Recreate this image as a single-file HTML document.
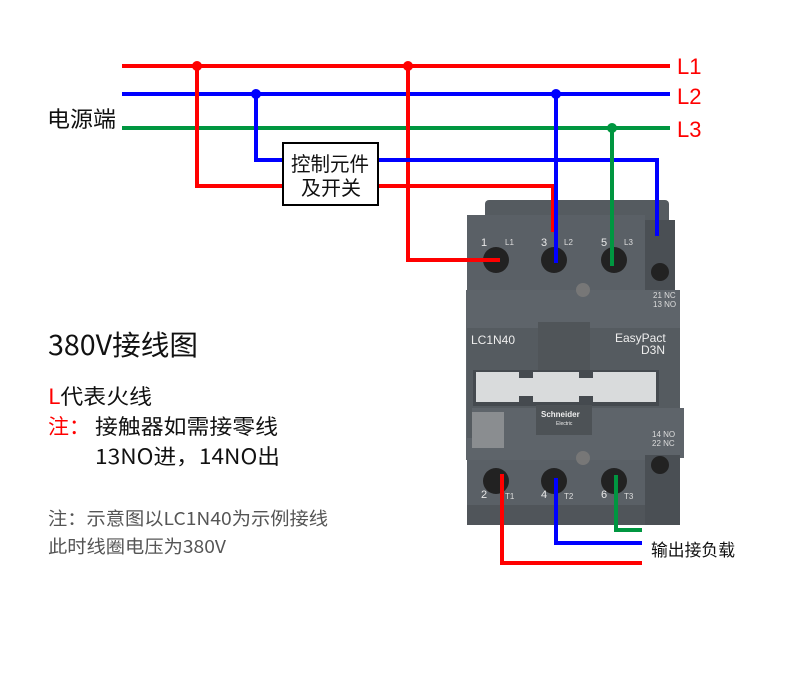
<!DOCTYPE html>
<html><head><meta charset="utf-8"><style>
html,body{margin:0;padding:0;background:#fff;}
svg{display:block;font-family:"Liberation Sans","Noto Sans CJK SC",sans-serif;}
.cj{font-family:"Noto Sans CJK SC","WenQuanYi Zen Hei",sans-serif;}
</style></head><body>
<svg width="790" height="687" viewBox="0 0 790 687" xmlns="http://www.w3.org/2000/svg">
<rect width="790" height="687" fill="#fff"/>
<g>
<rect x="485" y="200" width="184" height="40" rx="4" fill="#555b60"/>
<rect x="467" y="215" width="178" height="75" fill="#5a6066"/>
<rect x="645" y="220" width="30" height="75" fill="#4a4f54"/>
<rect x="645" y="296" width="35" height="30" fill="#5a6066"/>
<rect x="466" y="290" width="214" height="170" fill="#5e646a"/>
<rect x="467" y="328" width="213" height="110" fill="#555b60"/>
<rect x="472" y="408" width="212" height="50" fill="#5e646a"/>
<rect x="473" y="370" width="186" height="36" fill="#454a4f"/>
<rect x="476" y="372" width="180" height="30" fill="#d9dbdc"/>
<rect x="519" y="370" width="14" height="8" fill="#454a4f"/>
<rect x="519" y="396" width="14" height="8" fill="#454a4f"/>
<rect x="579" y="370" width="14" height="8" fill="#454a4f"/>
<rect x="579" y="396" width="14" height="8" fill="#454a4f"/>
<rect x="538" y="322" width="52" height="48" fill="#505559"/>
<rect x="536" y="405" width="56" height="30" fill="#4d5256"/>
<rect x="472" y="412" width="32" height="36" fill="#8a8d90"/>
<rect x="467" y="460" width="178" height="50" fill="#5a6066"/>
<rect x="467" y="505" width="178" height="20" fill="#50555a"/>
<rect x="645" y="455" width="35" height="70" fill="#4a4f54"/>
<g fill="#222">
<circle cx="496" cy="260" r="13"/><circle cx="554" cy="260" r="13"/><circle cx="614" cy="260" r="13"/>
<circle cx="496" cy="481" r="13"/><circle cx="554" cy="481" r="13"/><circle cx="614" cy="481" r="13"/>
<circle cx="660" cy="272" r="9"/><circle cx="660" cy="465" r="9"/>
</g>
<g fill="#777"><circle cx="583" cy="290" r="7"/><circle cx="583" cy="458" r="7"/></g>
<g fill="#e8e8e8" font-size="11">
<text x="481" y="246">1</text><text x="541" y="246">3</text><text x="601" y="246">5</text>
<text x="481" y="498">2</text><text x="541" y="498">4</text><text x="601" y="498">6</text>
</g>
<g fill="#ddd" font-size="8">
<text x="505" y="245">L1</text><text x="564" y="245">L2</text><text x="624" y="245">L3</text>
<text x="505" y="499">T1</text><text x="564" y="499">T2</text><text x="624" y="499">T3</text>
<text x="653" y="298">21 NC</text><text x="653" y="307">13 NO</text>
<text x="652" y="437">14 NO</text><text x="652" y="446">22 NC</text>
</g>
<g fill="#eee" font-size="12">
<text x="471" y="344">LC1N40</text>
<text x="615" y="342">EasyPact</text><text x="641" y="354">D3N</text>
</g>
<text x="541" y="417" fill="#eee" font-size="8" font-weight="bold">Schneider</text>
<text x="556" y="425" fill="#eee" font-size="5">Electric</text>
</g>
<g fill="none" stroke-width="4" stroke-linejoin="miter">
<line x1="122" y1="66" x2="670" y2="66" stroke="#ff0000"/>
<line x1="122" y1="94" x2="670" y2="94" stroke="#0000ff"/>
<line x1="122" y1="128" x2="670" y2="128" stroke="#009640"/>
<polyline points="197,66 197,186 283,186" stroke="#ff0000"/>
<polyline points="378,186 553,186 553,232" stroke="#ff0000"/>
<polyline points="408,66 408,260 500,260" stroke="#ff0000"/>
<polyline points="256,94 256,160 283,160" stroke="#0000ff"/>
<polyline points="378,160 657,160 657,236" stroke="#0000ff"/>
<polyline points="556,94 556,263" stroke="#0000ff"/>
<polyline points="612,128 612,266" stroke="#009640"/>
<polyline points="502,474 502,563 642,563" stroke="#ff0000"/>
<polyline points="556,478 556,543 642,543" stroke="#0000ff"/>
<polyline points="616,475 616,530 642,530" stroke="#009640"/>
</g>
<g>
<circle cx="197" cy="66" r="5" fill="#ff0000"/><circle cx="408" cy="66" r="5" fill="#ff0000"/>
<circle cx="256" cy="94" r="5" fill="#0000ff"/><circle cx="556" cy="94" r="5" fill="#0000ff"/>
<circle cx="612" cy="128" r="5" fill="#009640"/>
</g>
<rect x="283" y="143" width="95" height="62" fill="#fff" stroke="#000" stroke-width="2"/>
<g class="cj" font-size="20" fill="#111">
<text x="291" y="171" textLength="78" lengthAdjust="spacingAndGlyphs">控制元件</text><text x="301" y="195" textLength="60" lengthAdjust="spacingAndGlyphs">及开关</text>
</g>
<g font-size="22" fill="#ff0000">
<text x="677" y="74">L1</text><text x="677" y="104">L2</text><text x="677" y="137">L3</text>
</g>
<text class="cj" x="47" y="127" font-size="22" fill="#111" textLength="69" lengthAdjust="spacingAndGlyphs">电源端</text>
<text class="cj" x="48" y="355" font-size="28" fill="#111" textLength="150" lengthAdjust="spacingAndGlyphs">380V接线图</text>
<text class="cj" x="48" y="404" font-size="21" fill="#111" textLength="104" lengthAdjust="spacingAndGlyphs"><tspan fill="#ff0000">L</tspan>代表火线</text>
<text class="cj" x="48" y="434" font-size="21" fill="#ff0000">注：</text>
<text class="cj" x="95" y="434" font-size="21" fill="#111" textLength="183" lengthAdjust="spacingAndGlyphs">接触器如需接零线</text>
<text class="cj" x="95" y="464" font-size="21" fill="#111" textLength="185" lengthAdjust="spacingAndGlyphs">13NO进，14NO出</text>
<text class="cj" x="48" y="525" font-size="18" fill="#555" textLength="280" lengthAdjust="spacingAndGlyphs">注：示意图以LC1N40为示例接线</text>
<text class="cj" x="48" y="553" font-size="18" fill="#555" textLength="178" lengthAdjust="spacingAndGlyphs">此时线圈电压为380V</text>
<text class="cj" x="651" y="556" font-size="17" fill="#111" textLength="84" lengthAdjust="spacingAndGlyphs">输出接负载</text>
</svg>
</body></html>
